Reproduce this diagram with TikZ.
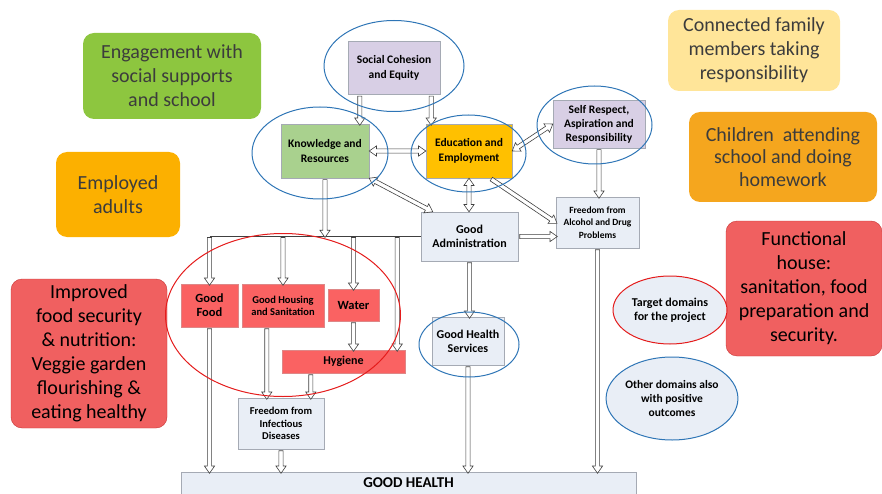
\documentclass[tikz,border=0pt]{standalone}
\usepackage{fontspec}
\setmainfont{Carlito}
\usepackage{xcolor}
\usepackage{tikz}
\usetikzlibrary{
  shapes.geometric,
  shapes.arrows,
  arrows.meta,
  positioning,
  calc
}
\definecolor{lila}{RGB}{216, 207, 229}
\definecolor{verdeb}{RGB}{169, 209, 142}
\definecolor{oro}{RGB}{255, 192, 0}
\definecolor{grisb}{RGB}{233, 238, 246}
\definecolor{marco}{RGB}{165, 170, 180}
\definecolor{rojob}{RGB}{250, 98, 98}
\definecolor{rojom}{RGB}{200, 55, 55}
\definecolor{azulr}{RGB}{46, 117, 182}
\definecolor{rojor}{RGB}{228, 28, 28}
\definecolor{notaverde}{RGB}{141, 198, 63}
\definecolor{notanar}{RGB}{252, 176, 0}
\definecolor{notanar2}{RGB}{245, 166, 30}
\definecolor{notaama}{RGB}{255, 229, 153}
\definecolor{notaroja}{RGB}{240, 96, 96}
\definecolor{textog}{RGB}{60, 60, 60}

\begin{document}
\begin{tikzpicture}[
  x=1pt, y=-1pt,
  box/.style  = {
    rectangle, draw=marco, fill=grisb, align=center, inner sep=1pt,
    font=\bfseries\fontsize{11.5}{14.5}\selectfont
  },
  boxl/.style = {box, fill=lila},
  boxg/.style = {box, fill=verdeb},
  boxo/.style = {box, fill=oro},
  boxr/.style = {box, fill=rojob, draw=rojom!60},
  ringb/.style = {ellipse, draw=azulr, line width=1pt, inner sep=0pt},
  ringr/.style = {ellipse, draw=rojor, line width=1pt, inner sep=0pt},
  nota/.style = {
    rectangle, rounded corners=11pt, align=center, inner sep=2pt,
    text=textog, font=\fontsize{20}{24}\selectfont
  },
  arrshape/.style = {draw=black!75, fill=white, line width=0.6pt,
    inner sep=1.8pt, anchor=center},
  arr/.style  = {to path={
    let \p1=(\tikztostart), \p2=(\tikztotarget),
        \n1={veclen(\x2-\x1,\y2-\y1)}, \n2={atan2(\y2-\y1,\x2-\x1)}
    in node[arrshape, single arrow, single arrow head extend=3pt,
      single arrow tip angle=70, minimum height=\n1, rotate=\n2]
      at ($(\tikztostart)!0.5!(\tikztotarget)$) {}
    (\tikztotarget)}},
  arrd/.style = {to path={
    let \p1=(\tikztostart), \p2=(\tikztotarget),
        \n1={veclen(\x2-\x1,\y2-\y1)}, \n2={atan2(\y2-\y1,\x2-\x1)}
    in node[arrshape, double arrow, double arrow head extend=3pt,
      double arrow tip angle=70, minimum height=\n1, rotate=\n2]
      at ($(\tikztostart)!0.5!(\tikztotarget)$) {}
    (\tikztotarget)}},
  bus/.style  = {draw=black!75, line width=0.9pt}
]
\useasboundingbox (0,0) rectangle (882,494);

% Notes round the diagram
\node[nota, fill=notaverde, minimum width=178pt, minimum height=86pt] (engage) at (172,76)
  {Engagement with\\social supports\\and school};
\node[nota, fill=notanar, minimum width=124pt, minimum height=85pt] (adults) at (118,194.5)
  {Employed\\adults};
\node[nota, fill=notaroja, draw=rojom, text=black, minimum width=156pt, minimum height=149pt] (foodsec) at (89,353.5)
  {Improved\\food security\\\& nutrition:\\Veggie garden\\flourishing \&\\eating healthy};
\node[nota, fill=notaama, minimum width=172pt, minimum height=81pt] (family) at (754,50.5)
  {Connected family\\members taking\\responsibility};
\node[nota, fill=notanar2, minimum width=188pt, minimum height=90pt,
  font=\fontsize{20}{22.5}\selectfont] (children) at (783,157)
  {Children\ \ attending\\school and doing\\homework};
\node[nota, fill=notaroja, draw=rojom, text=black, minimum width=156pt, minimum height=135pt] (house) at (804,288.5)
  {Functional\\house:\\sanitation, food\\preparation and\\security.};

% Upper domains
\node[boxl, minimum width=92pt, minimum height=53pt] (soc) at (394,68) {Social Cohesion\\and Equity};
\node[boxg, minimum width=88pt, minimum height=54pt] (know) at (325,151) {Knowledge and\\Resources};
\node[boxo, minimum width=86pt, minimum height=54pt] (edu) at (469,151) {Education and\\Employment};
\node[boxl, minimum width=92pt, minimum height=48pt,
  font=\bfseries\fontsize{11.5}{14}\selectfont] (self) at (599,124) {Self Respect,\\Aspiration and\\Responsibility};
\node[box, minimum width=97pt, minimum height=49pt,
  font=\bfseries\fontsize{12}{14.5}\selectfont] (adm) at (469.5,236.5) {Good\\Administration};
\node[box, minimum width=83pt, minimum height=51pt,
  font=\bfseries\fontsize{9.5}{12.5}\selectfont] (alc) at (597.5,222.5) {Freedom from\\Alcohol and Drug\\Problems};

% Lower domains
\node[boxr, minimum width=57pt, minimum height=43pt,
  font=\bfseries\fontsize{12.5}{14}\selectfont] (food) at (209.5,305.5) {Good\\Food};
\node[boxr, minimum width=82pt, minimum height=43pt,
  font=\bfseries\fontsize{10.5}{12}\selectfont] (housing) at (283,305.5) {Good Housing\\and Sanitation};
\node[boxr, minimum width=51pt, minimum height=32pt,
  font=\bfseries\fontsize{12.5}{14}\selectfont] (water) at (353.5,305) {Water};
\node[boxr, minimum width=123pt, minimum height=23pt,
  font=\bfseries\fontsize{12}{14}\selectfont] (hyg) at (343.5,361.5) {Hygiene};
\node[box, minimum width=86pt, minimum height=51pt,
  font=\bfseries\fontsize{10.5}{12.5}\selectfont] (inf) at (281,423.5) {Freedom from\\Infectious\\Diseases};
\node[box, minimum width=72pt, minimum height=48pt,
  font=\bfseries\fontsize{12}{14}\selectfont] (ghs) at (468,341) {Good Health\\Services};
\node[box, minimum width=455pt, minimum height=22pt,
  font=\bfseries\fontsize{15}{16}\selectfont] (health) at (408.5,483) {\raisebox{-5pt}{GOOD HEALTH}};
\coordinate (busL) at (209.5,236);

% Bus to the lower domains
\draw[bus] (busL) -- (adm.west |- busL);

% Arrows between upper domains
\draw[arr] ([xshift=12pt]soc.south west) to ([xshift=12pt]soc.south west |- know.north);
\draw[arr] ([xshift=-9pt]soc.south east) to ([xshift=-9pt]soc.south east |- edu.north);
\draw[arrd] (know.east) to (edu.west);
\draw[arrd] (edu.east) to (self.west);
\draw[arrd] (know.south east) to ([xshift=12pt]adm.north west);
\draw[arrd] (edu.south) to (edu.south |- adm.north);
\draw[arr] ([xshift=21pt]edu.south) to (alc.west);
\draw[arr] (self.south) to (self.south |- alc.north);
\draw[arr] (adm.east) to (alc.west |- adm.east);

% Arrows from the bus
\draw[arr] (know.south) to (know.south |- busL);
\draw[arr] (busL) to (food.north);
\draw[arr] (housing.north |- busL) to (housing.north);
\draw[arr] (water.north |- busL) to (water.north);
\draw[arr] ([xshift=-8pt]hyg.north east |- busL) to ([xshift=-8pt]hyg.north east);
\draw[arr] (water.south) to (water.south |- hyg.north);
\draw[arr] ([xshift=25pt]housing.south west) to ([xshift=25pt]housing.south west |- inf.north);
\draw[arr] ([xshift=29pt]hyg.south west) to ([xshift=29pt]hyg.south west |- inf.north);

% Arrows into good health
\draw[arr] (food.south) to (food.south |- health.north);
\draw[arr] (inf.south) to (inf.south |- health.north);
\draw[arr] (adm.south) to (adm.south |- ghs.north);
\draw[arr] (ghs.south) to (ghs.south |- health.north);
\draw[arr] (alc.south) to (alc.south |- health.north);

% Rings
\node[ringb, minimum width=140pt, minimum height=91pt] (socring) at (394,66) {};
\node[ringb, minimum width=136pt, minimum height=92pt] (knowring) at (320,153) {};
\node[ringb, minimum width=115pt, minimum height=77pt] (earing) at (468.5,153.5) {};
\node[ringb, minimum width=115pt, minimum height=78pt] (selfring) at (594.5,125) {};
\node[ringb, minimum width=100pt, minimum height=65pt] (ghsring) at (469,344.5) {};
\node[ringr, minimum width=235pt, minimum height=163pt] (homering) at (283,315) {};

% Legend
\node[ringr, fill=grisb, minimum width=114pt, minimum height=68pt,
  font=\bfseries\fontsize{12}{14}\selectfont, align=center] (target) at (670,310)
  {Target domains\\for the project};
\node[ringb, fill=grisb, minimum width=130pt, minimum height=83pt,
  font=\bfseries\fontsize{11.5}{14}\selectfont, align=center] (other) at (672,398.5)
  {Other domains also\\with positive\\outcomes};

\end{tikzpicture}
\end{document}
